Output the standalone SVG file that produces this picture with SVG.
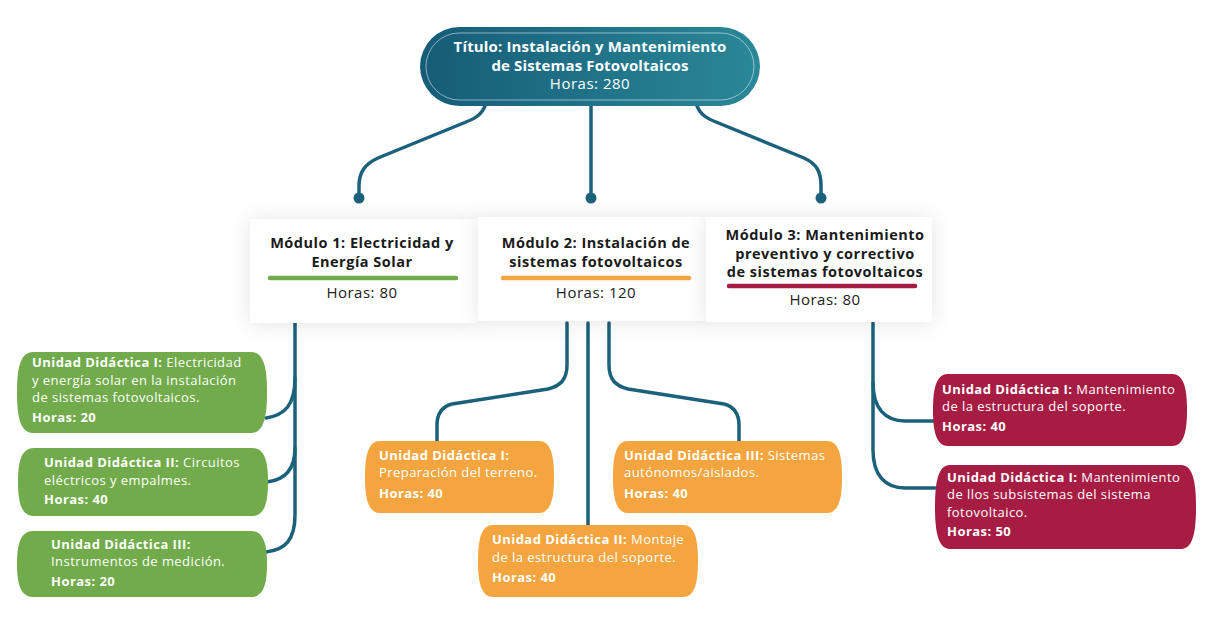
<svg xmlns="http://www.w3.org/2000/svg" width="1220" height="639" viewBox="0 0 1220 639">
<defs>
<linearGradient id="tg" x1="0" y1="0" x2="1" y2="0">
<stop offset="0" stop-color="#165c77"/>
<stop offset="1" stop-color="#2a8898"/>
</linearGradient>
<filter id="sh" x="-10%" y="-40%" width="120%" height="180%">
<feDropShadow dx="0" dy="1" stdDeviation="10" flood-color="#000" flood-opacity="0.11"/>
</filter>
<style>
text{font-family:"Open Sans","Noto Sans","Liberation Sans",sans-serif;}
.tt{fill:#fff;font-size:15px;font-weight:700;text-anchor:middle;letter-spacing:0.15px;}
.th{fill:#fff;font-size:15px;text-anchor:middle;letter-spacing:0.5px;}
.mt{fill:#1a1a1a;font-size:14.5px;font-weight:700;text-anchor:middle;letter-spacing:0.5px;}
.mh{fill:#222;font-size:15px;text-anchor:middle;letter-spacing:0.5px;}
.ut{fill:#fff;font-size:13px;letter-spacing:0.45px;}
.b{font-weight:700;}
.con{fill:none;stroke:#1b617b;stroke-width:3.5;stroke-linecap:round;}
.dot{fill:#1b617b;}
.g{fill:#71ab4b;}
.o{fill:#f5a540;}
.r{fill:#a61c43;}
.card{fill:#fff;filter:url(#sh);}
</style>
</defs>
<rect width="1220" height="639" fill="#fff"/>

<g id="connectors">
<path class="con" d="M485,106 C482,114 476,118 466,122 L378,158 C365,164 359,172 359,186 V198"/>
<path class="con" d="M591,106 V198"/>
<path class="con" d="M697,106 C700,114 706,118 716,122 L804,158 C817,164 821,172 821,186 V198"/>
<circle class="dot" cx="359" cy="198" r="5.5"/>
<circle class="dot" cx="591" cy="198" r="5.5"/>
<circle class="dot" cx="821" cy="198" r="5.5"/>
<path class="con" d="M295,323 V515 C295,540 285,550 266,552"/>
<path class="con" d="M295,378 C295,405 285,415 266,418"/>
<path class="con" d="M295,448 C295,470 285,480 267,482"/>
<path class="con" d="M567,323 V365 C567,380 560,386 548,389 L452,404 C441,407 437,415 437,425 V441"/>
<path class="con" d="M588,323 V525"/>
<path class="con" d="M609,323 V365 C609,380 616,386 628,389 L724,404 C735,407 739,415 739,425 V441"/>
<path class="con" d="M873,323 V450 C873,475 885,488 905,488 H935"/>
<path class="con" d="M873,383 C873,408 885,421 905,421 H934"/>
</g>

<g id="title">
<rect x="420" y="27" width="340" height="79" rx="39.5" fill="url(#tg)"/>
<rect x="426" y="33" width="328" height="67" rx="33.5" fill="none" stroke="#fff" stroke-opacity="0.5" stroke-width="1"/>
<text class="tt" x="590" y="52">Título: Instalación y Mantenimiento</text>
<text class="tt" x="590" y="71">de Sistemas Fotovoltaicos</text>
<text class="th" x="590" y="89">Horas: 280</text>
</g>

<g id="modulo1">
<rect class="card" x="250" y="219" width="228" height="104"/>
<text class="mt" x="362" y="248">Módulo 1: Electricidad y</text>
<text class="mt" x="362" y="267">Energía Solar</text>
<line x1="270" y1="278" x2="456" y2="278" stroke="#71ab4b" stroke-width="4.5" stroke-linecap="round"/>
<text class="mh" x="362" y="298">Horas: 80</text>
</g>

<g id="modulo2">
<rect class="card" x="478" y="217" width="228" height="104"/>
<text class="mt" x="596" y="248">Módulo 2: Instalación de</text>
<text class="mt" x="596" y="267">sistemas fotovoltaicos</text>
<line x1="503" y1="278" x2="689" y2="278" stroke="#f5a540" stroke-width="4.5" stroke-linecap="round"/>
<text class="mh" x="596" y="298">Horas: 120</text>
</g>

<g id="modulo3">
<rect class="card" x="706" y="217" width="226" height="105"/>
<text class="mt" x="825" y="240">Módulo 3: Mantenimiento</text>
<text class="mt" x="825" y="259">preventivo y correctivo</text>
<text class="mt" x="825" y="277">de sistemas fotovoltaicos</text>
<line x1="729" y1="286" x2="915" y2="286" stroke="#a61c43" stroke-width="4.5" stroke-linecap="round"/>
<text class="mh" x="825" y="305">Horas: 80</text>
</g>

<g id="m1-ud1">
<path class="g" d="M33,352 H251 C265,352 267,372 267,392.5 C267,413 265,433 251,433 H33 C19,433 17,413 17,392.5 C17,372 19,352 33,352 Z"/>
<text class="ut" x="32" y="367"><tspan class="b">Unidad Didáctica I:</tspan> Electricidad</text>
<text class="ut" x="32" y="385">y energía solar en la instalación</text>
<text class="ut" x="32" y="402">de sistemas fotovoltaicos.</text>
<text class="ut b" x="32" y="422">Horas: 20</text>
</g>

<g id="m1-ud2">
<path class="g" d="M34,448 H252 C266,448 268,465 268,482 C268,499 266,516 252,516 H34 C20,516 18,499 18,482 C18,465 20,448 34,448 Z"/>
<text class="ut" x="44" y="467"><tspan class="b">Unidad Didáctica II:</tspan> Circuitos</text>
<text class="ut" x="44" y="485">eléctricos y empalmes.</text>
<text class="ut b" x="44" y="504">Horas: 40</text>
</g>

<g id="m1-ud3">
<path class="g" d="M33,531 H251 C265,531 267,548 267,564 C267,580 265,597 251,597 H33 C19,597 17,580 17,564 C17,548 19,531 33,531 Z"/>
<text class="ut b" x="51" y="549">Unidad Didáctica III:</text>
<text class="ut" x="51" y="566">Instrumentos de medición.</text>
<text class="ut b" x="51" y="586">Horas: 20</text>
</g>

<g id="m2-ud1">
<path class="o" d="M380,441 H539 C552,441 554,459 554,477 C554,495 552,513 539,513 H380 C367,513 365,495 365,477 C365,459 367,441 380,441 Z"/>
<text class="ut b" x="379" y="460">Unidad Didáctica I:</text>
<text class="ut" x="379" y="477">Preparación del terreno.</text>
<text class="ut b" x="379" y="498">Horas: 40</text>
</g>

<g id="m2-ud2">
<path class="o" d="M493,525 H683 C696,525 698,543 698,561 C698,579 696,597 683,597 H493 C480,597 478,579 478,561 C478,543 480,525 493,525 Z"/>
<text class="ut" x="492" y="544"><tspan class="b">Unidad Didáctica II:</tspan> Montaje</text>
<text class="ut" x="492" y="562">de la estructura del soporte.</text>
<text class="ut b" x="492" y="582">Horas: 40</text>
</g>

<g id="m2-ud3">
<path class="o" d="M628,441 H827 C840,441 842,459 842,477 C842,495 840,513 827,513 H628 C615,513 613,495 613,477 C613,459 615,441 628,441 Z"/>
<text class="ut" x="624" y="460"><tspan class="b">Unidad Didáctica III:</tspan> Sistemas</text>
<text class="ut" x="624" y="477">autónomos/aislados.</text>
<text class="ut b" x="624" y="498">Horas: 40</text>
</g>

<g id="m3-ud1">
<path class="r" d="M948,374 H1172 C1185,374 1187,392 1187,410 C1187,428 1185,446 1172,446 H948 C935,446 933,428 933,410 C933,392 935,374 948,374 Z"/>
<text class="ut" x="942" y="394"><tspan class="b">Unidad Didáctica I:</tspan> Mantenimiento</text>
<text class="ut" x="942" y="411">de la estructura del soporte.</text>
<text class="ut b" x="942" y="431">Horas: 40</text>
</g>

<g id="m3-ud2">
<path class="r" d="M950,465 H1181 C1194,465 1196,486 1196,507 C1196,528 1194,549 1181,549 H950 C937,549 935,528 935,507 C935,486 937,465 950,465 Z"/>
<text class="ut" x="947" y="482"><tspan class="b">Unidad Didáctica I:</tspan> Mantenimiento</text>
<text class="ut" x="947" y="499">de llos subsistemas del sistema</text>
<text class="ut" x="947" y="517">fotovoltaico.</text>
<text class="ut b" x="947" y="536">Horas: 50</text>
</g>
</svg>
